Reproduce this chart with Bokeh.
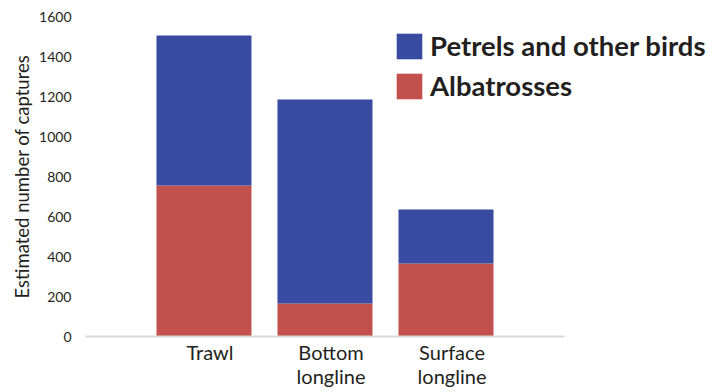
from bokeh.plotting import figure
from bokeh.models import ColumnDataSource, Range1d, FixedTicker, Legend, LegendItem
from bokeh.embed import file_html
from bokeh.resources import INLINE

# ---- data ----
categories = ["Trawl", "Bottom\nlongline", "Surface\nlongline"]
albatrosses = [755, 165, 365]
petrels = [750, 1020, 270]   # petrels and other birds (stacked on top)
tick_values = [0, 200, 400, 600, 800, 1000, 1200, 1400, 1600]

BLUE = "#394BA0"
RED = "#C2514D"
TEXT = "#231f20"
FONT = "Lato"

pos = [i + 1 for i in range(len(categories))]
bar_x = [p_ - 0.05 for p_ in pos]

X_START, X_AXIS_END, X_END = -0.029, 3.929, 5.235

src = ColumnDataSource(dict(x=bar_x, albatrosses=albatrosses, petrels=petrels))

p = figure(width=722, height=392, output_backend="svg", toolbar_location=None,
           x_range=Range1d(X_START, X_END), y_range=Range1d(0, 1600),
           min_border_left=85, min_border_right=0, min_border_top=16, min_border_bottom=56)
p.outline_line_color = None
p.background_fill_color = "white"
p.border_fill_color = "white"
p.grid.visible = False

rs = p.vbar_stack(["albatrosses", "petrels"], x="x", width=0.785, source=src,
                  color=[RED, BLUE], line_color=None)

# x axis
p.xaxis.ticker = FixedTicker(ticks=pos)
p.xaxis.bounds = (X_START, X_AXIS_END)
p.xaxis.major_label_overrides = {k: v for k, v in zip(pos, categories)}
p.xaxis.axis_line_color = "#d9d9d9"
p.xaxis.axis_line_width = 2
p.xaxis.major_tick_line_color = None
p.xaxis.major_tick_out = 0
p.xaxis.major_tick_in = 0
p.xaxis.minor_tick_line_color = None
p.xaxis.major_label_text_font = FONT
p.xaxis.major_label_text_font_size = "20px"
p.xaxis.major_label_text_line_height = 1.0
p.xaxis.major_label_text_color = TEXT
p.xaxis.major_label_standoff = 3

# y axis
p.yaxis.ticker = FixedTicker(ticks=tick_values)
p.yaxis.axis_line_color = None
p.yaxis.major_tick_line_color = None
p.yaxis.major_tick_out = 0
p.yaxis.major_tick_in = 0
p.yaxis.minor_tick_line_color = None
p.yaxis.major_label_text_font = FONT
p.yaxis.major_label_text_font_size = "14px"
p.yaxis.major_label_text_color = TEXT
p.yaxis.major_label_standoff = 14
p.yaxis.axis_label = "Estimated number of captures"
p.yaxis.axis_label_text_font = FONT
p.yaxis.axis_label_text_font_size = "18.5px"
p.yaxis.axis_label_text_font_style = "normal"
p.yaxis.axis_label_text_color = TEXT
p.yaxis.axis_label_standoff = 3

legend = Legend(items=[LegendItem(label="Petrels and other birds", renderers=[rs[1]]),
                       LegendItem(label="Albatrosses", renderers=[rs[0]])],
                location=(308, 234), orientation="vertical",
                glyph_width=32, glyph_height=32, spacing=7, padding=0, margin=0,
                label_standoff=5, label_text_font=FONT, label_text_font_size="27.5px",
                label_text_font_style="bold", label_text_color=TEXT,
                border_line_color=None, background_fill_alpha=0)
p.add_layout(legend)

open("out.html", "w").write(file_html(p, INLINE))
